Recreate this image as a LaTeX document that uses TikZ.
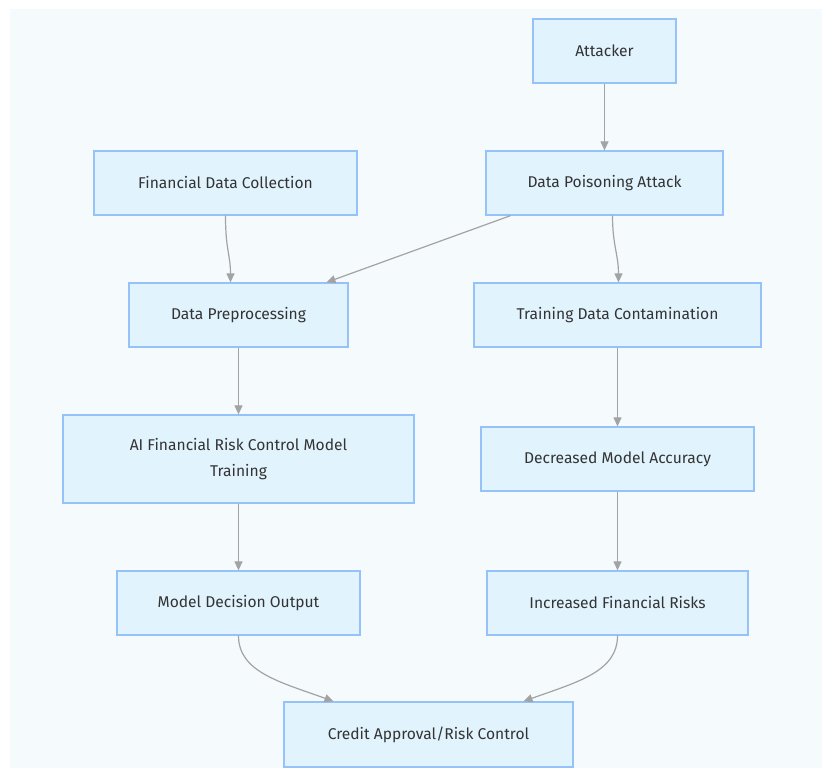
\documentclass[tikz,border=0pt]{standalone}
\usepackage{fontspec}
\setmainfont{Fira Sans}
\usetikzlibrary{arrows.meta}
\definecolor{bgc}{HTML}{F5FAFC}
\definecolor{boxfill}{HTML}{E1F3FD}
\definecolor{boxline}{HTML}{95C2F8}
\definecolor{edgec}{HTML}{A3A3A3}
\definecolor{txt}{HTML}{333333}
\begin{document}
\begin{tikzpicture}[x=1pt,y=-1pt,>={Triangle[length=9pt,width=8pt]},
    box/.style={draw=boxline,fill=boxfill,line width=1.3pt,minimum height=64pt,inner sep=0pt,
      text=txt,font=\fontsize{15.6}{26}\selectfont,align=center},
    edge/.style={->,draw=edgec,line width=1.2pt}]
  \useasboundingbox (0,0) rectangle (823,769);
  \fill[white] (0,0) rectangle (823,769);
  \fill[bgc] (10,9) rectangle (822,768);
  \node[box,minimum width=143pt] (atk) at (604.5,51) {Attacker};
  \node[box,minimum width=237pt] (poison) at (604.5,183) {Data Poisoning Attack};
  \node[box,minimum width=263pt] (collect) at (225.5,183) {Financial Data Collection};
  \node[box,minimum width=219pt] (prep) at (238.5,315) {Data Preprocessing};
  \node[box,minimum width=287pt] (contam) at (617.5,315) {Training Data Contamination};
  \node[box,minimum width=351pt,minimum height=88pt] (train) at (238.5,459) {AI Financial Risk Control Model\\Training};
  \node[box,minimum width=273pt] (acc) at (617.5,459) {Decreased Model Accuracy};
  \node[box,minimum width=243pt] (out) at (238.5,603) {Model Decision Output};
  \node[box,minimum width=261pt] (risk) at (617.5,603) {Increased Financial Risks};
  \node[box,minimum width=289pt,minimum height=65pt] (credit) at (428.5,734.5) {Credit Approval/Risk Control};
  \draw[edge] (atk) -- (poison);
  \draw[edge] (collect.south) .. controls (225.5,250) and (230.5,255) .. ([xshift=-8pt]prep.north);
  \draw[edge] ([xshift=-94pt]poison.south) -- ([xshift=88pt]prep.north);
  \draw[edge] ([xshift=8pt]poison.south) .. controls (612.5,245) and (618.5,255) .. ([xshift=1pt]contam.north);
  \draw[edge] (prep) -- (train);
  \draw[edge] (contam) -- (acc);
  \draw[edge] (train) -- (out);
  \draw[edge] (acc) -- (risk);
  \draw[edge] (out.south) .. controls (238.5,672) and (280,682) .. ([xshift=-95pt]credit.north);
  \draw[edge] (risk.south) .. controls (617.5,672) and (577,682) .. ([xshift=95pt]credit.north);
\end{tikzpicture}
\end{document}
